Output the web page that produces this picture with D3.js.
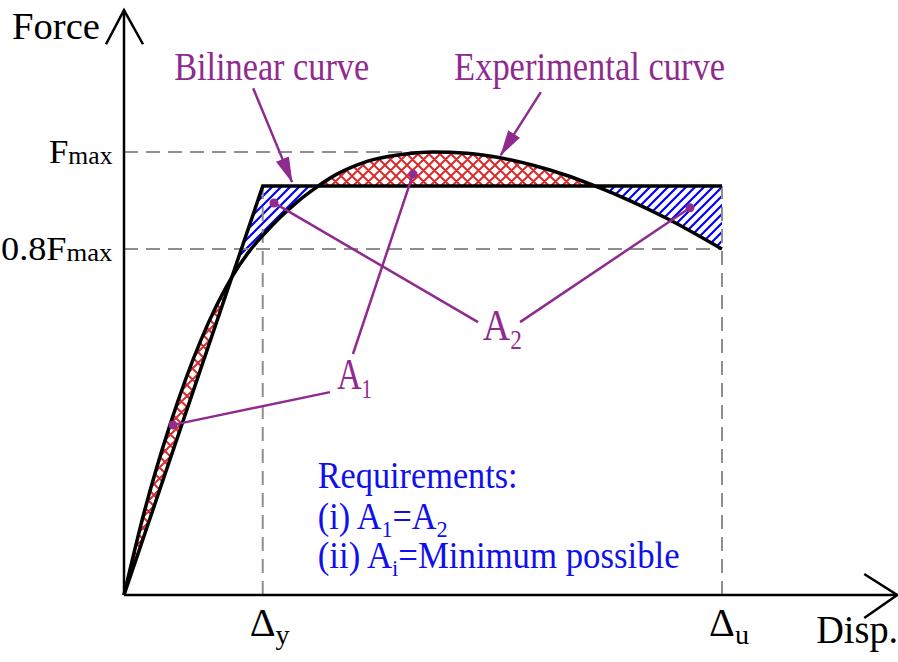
<!DOCTYPE html>
<html><head><meta charset="utf-8">
<script src="https://cdn.jsdelivr.net/npm/d3@7"></script>
<style>html,body{margin:0;padding:0;background:#fff;}svg{display:block;} text{font-family:"Liberation Serif","DejaVu Serif",serif;}</style>
</head><body>
<script>
// ---------- data (displacement: Δu = 100, force: Fmax = 1) ----------
const expDisp  = [0, 3.34, 7.69, 12.88, 18.06, 21.07, 23.58, 26.09, 28.93, 31.94, 34.95, 37.79, 40.64, 46.15, 51.67, 57.36, 62.88, 68.40, 74.08, 78.43, 85.12, 90.80, 100];
const expForce = [0, 0.185, 0.384, 0.576, 0.718, 0.778, 0.817, 0.852, 0.887, 0.918, 0.945, 0.964, 0.979, 0.994, 1.000, 0.997, 0.987, 0.970, 0.947, 0.925, 0.887, 0.850, 0.781];
const bilinDisp  = [0, 23.2, 100];
const bilinForce = [0, 0.923, 0.923];
const dispTickValues = [23.2, 100];
const dispTickLabels = [["Δ","y"], ["Δ","u"]];
const forceTickValues = [1.0, 0.781];
const forceTickLabels = [["F","max"], ["0.8F","max"]];
const peakDisp = 51.7;
const axisMaxDisp = 129.3;
const axisMaxForce = 1.32;
const a1Dots = [[8.19, 0.384], [48.33, 0.950]];
const a2Dots = [[25.08, 0.885], [94.65, 0.874]];
const a1LeaderEnds = [[34.45, 0.458], [38.29, 0.544]];
const a2LeaderEnds = [[59.2, 0.616], [66.22, 0.616]];
const areaLabels = [["A","1", 35.6, 0.465], ["A","2", 60.0, 0.576]];
const bilinArrow = [[21.6, 1.144], [28.1, 0.932]];
const expArrow   = [[69.7, 1.135], [63.0, 0.993]];
const curveLabels = [["Bilinear curve", 8.4, 1.163], ["Experimental curve", 55.2, 1.163]];
const reqLines = [[["Requirements:", 0]], [["(i) A", 0], ["1", 1], ["=A", 0], ["2", 1]], [["(ii) A", 0], ["i", 1], ["=Minimum possible", 0]]];
const reqX = 32.4;
const reqBaselines = [0.2415, 0.149, 0.061];
</script>
<script>
const W = 898, H = 662;
const FONT = "Liberation Serif, DejaVu Serif, serif";
const PURPLE = "#8f2a8f", BLUE_T = "#1010ee", GREY = "#8f8f8f";
const x = d3.scaleLinear().domain([0, 100]).range([124, 722]);
const y = d3.scaleLinear().domain([0, 1]).range([595, 152]);

const svg = d3.select("body").append("svg").attr("width", W).attr("height", H);
const defs = svg.append("defs");

// hatch patterns
const pb = defs.append("pattern").attr("id", "hatchBlue").attr("patternUnits", "userSpaceOnUse")
  .attr("width", 9).attr("height", 9);
pb.append("path").attr("d", "M-2,2 L2,-2 M0,9 L9,0 M7,11 L11,7")
  .attr("stroke", "#0000ff").attr("stroke-width", 2.2);
const pr = defs.append("pattern").attr("id", "hatchRed").attr("patternUnits", "userSpaceOnUse")
  .attr("width", 11).attr("height", 11);
pr.append("path").attr("d", "M-2,2 L2,-2 M0,11 L11,0 M9,13 L13,9 M-2,9 L2,13 M0,0 L11,11 M9,-2 L13,2")
  .attr("stroke", "#d92b2b").attr("stroke-width", 2);

// marker
defs.append("marker").attr("id", "arrowP").attr("markerUnits", "userSpaceOnUse")
  .attr("viewBox", "0 0 26 14").attr("markerWidth", 26).attr("markerHeight", 14)
  .attr("refX", 25).attr("refY", 7).attr("orient", "auto")
  .append("path").attr("d", "M0,0 L26,7 L0,14 Z").attr("fill", PURPLE);

const expPts = expDisp.map((d, i) => [d, expForce[i]]);
const bilPts = bilinDisp.map((d, i) => [d, bilinForce[i]]);
const curve = d3.curveMonotoneX;

// clip regions
const underExp = d3.area().x(d => x(d[0])).y0(y(0)).y1(d => y(d[1])).curve(curve);
const aboveExp = d3.area().x(d => x(d[0])).y0(y(1.4)).y1(d => y(d[1])).curve(curve);
defs.append("clipPath").attr("id", "clipUnder").append("path").attr("d", underExp(expPts));
defs.append("clipPath").attr("id", "clipAbove").append("path").attr("d", aboveExp(expPts));

const poly = d3.line().x(d => x(d[0])).y(d => y(d[1]));
const aboveBil = bilPts.concat([[100, 1.4], [0, 1.4]]);
const belowBil = bilPts.concat([[100, 0]]);
svg.append("path").attr("d", poly(aboveBil) + "Z").attr("fill", "url(#hatchRed)")
  .attr("clip-path", "url(#clipUnder)");
svg.append("path").attr("d", poly(belowBil) + "Z").attr("fill", "url(#hatchBlue)")
  .attr("clip-path", "url(#clipAbove)");

// dashed reference lines
const dash = svg.append("g").attr("stroke", GREY).attr("stroke-width", 2).attr("stroke-dasharray", "14,8").attr("fill", "none");
dash.append("line").attr("x1", x(0)).attr("x2", x(peakDisp)).attr("y1", y(forceTickValues[0])).attr("y2", y(forceTickValues[0]));
dash.append("line").attr("x1", x(0)).attr("x2", x(dispTickValues[1])).attr("y1", y(forceTickValues[1])).attr("y2", y(forceTickValues[1]));
dispTickValues.forEach(v => {
  dash.append("line").attr("x1", x(v)).attr("x2", x(v)).attr("y1", y(0)).attr("y2", y(bilinForce[1]));
});

// curves
svg.append("path").attr("d", d3.line().x(d => x(d[0])).y(d => y(d[1])).curve(curve)(expPts))
  .attr("fill", "none").attr("stroke", "#000").attr("stroke-width", 3.5);
svg.append("path").attr("d", poly(bilPts))
  .attr("fill", "none").attr("stroke", "#000").attr("stroke-width", 3.5).attr("stroke-linejoin", "miter");

// leader lines
const lead = svg.append("g").attr("stroke", PURPLE).attr("stroke-width", 2.5).attr("fill", "none");
a1Dots.forEach((d, i) => lead.append("line").attr("x1", x(d[0])).attr("y1", y(d[1]))
  .attr("x2", x(a1LeaderEnds[i][0])).attr("y2", y(a1LeaderEnds[i][1])));
a2Dots.forEach((d, i) => lead.append("line").attr("x1", x(d[0])).attr("y1", y(d[1]))
  .attr("x2", x(a2LeaderEnds[i][0])).attr("y2", y(a2LeaderEnds[i][1])));
[bilinArrow, expArrow].forEach(a => lead.append("line")
  .attr("x1", x(a[0][0])).attr("y1", y(a[0][1])).attr("x2", x(a[1][0])).attr("y2", y(a[1][1]))
  .attr("marker-end", "url(#arrowP)"));
svg.append("g").selectAll("circle").data(a1Dots.concat(a2Dots)).join("circle")
  .attr("cx", d => x(d[0])).attr("cy", d => y(d[1])).attr("r", 4.5).attr("fill", PURPLE);

function txt(xp, yp, size) {
  return svg.append("text").attr("x", xp).attr("y", yp).attr("font-family", FONT).attr("font-size", size);
}
// squeeze a text horizontally so that it spans [left, left + width]
function fit(t, left, width) {
  const bb = t.node().getBBox();
  const s = width / bb.width;
  t.attr("transform", `translate(${left - s * bb.x},0) scale(${s},1)`);
  return t;
}

// area labels
const areaWidths = [35, 39];
areaLabels.forEach((l, i) => {
  const t = txt(x(l[2]), y(l[3]), 44).attr("fill", PURPLE);
  t.append("tspan").text(l[0]);
  t.append("tspan").attr("font-size", 27).attr("dy", 9).text(l[1]);
  fit(t, x(l[2]), areaWidths[i]);
});

// curve labels
const curveWidths = [195, 271];
curveLabels.forEach((l, i) => fit(txt(x(l[1]), y(l[2]), 40).attr("fill", PURPLE).text(l[0]), x(l[1]), curveWidths[i]));

// requirements
const reqWidths = [200, 130, 362];
reqLines.forEach((line, i) => {
  const t = txt(x(reqX), y(reqBaselines[i]), 37).attr("fill", BLUE_T);
  let sub = 0;
  line.forEach(seg => {
    const ts = t.append("tspan").text(seg[0]);
    if (seg[1] === 1) { ts.attr("font-size", 24).attr("dy", sub ? 0 : 8); sub = 1; }
    else if (sub) { ts.attr("dy", -8); sub = 0; }
  });
  fit(t, x(reqX), reqWidths[i]);
});

// axes
const ax = svg.append("g").attr("stroke", "#000").attr("stroke-width", 2.5).attr("fill", "none");
ax.append("line").attr("x1", x(0)).attr("y1", y(0)).attr("x2", x(0)).attr("y2", y(axisMaxForce));
ax.append("line").attr("x1", x(0)).attr("y1", y(0)).attr("x2", x(axisMaxDisp)).attr("y2", y(0));
ax.append("polyline").attr("points", [[x(0) - 18, y(axisMaxForce) + 34], [x(0), y(axisMaxForce)], [x(0) + 19, y(axisMaxForce) + 34]].join(" "));
ax.append("polyline").attr("points", [[x(axisMaxDisp) - 33, y(0) - 21], [x(axisMaxDisp), y(0)], [x(axisMaxDisp) - 33, y(0) + 23]].join(" "));

// axis titles
fit(txt(x(0) - 112, y(axisMaxForce) + 29, 38).text("Force"), x(0) - 112, 88);
fit(txt(x(axisMaxDisp) - 80, y(0) + 48, 40).text("Disp."), x(axisMaxDisp) - 81, 82);

// force tick labels
const forceLabelLeft = [75, 123], forceLabelWidth = [64, 112];
forceTickValues.forEach((v, i) => {
  const t = txt(x(0) - forceLabelLeft[i], y(v) + 11, 34);
  t.append("tspan").text(forceTickLabels[i][0]);
  t.append("tspan").attr("font-size", 25).attr("dy", 1).text(forceTickLabels[i][1]);
  fit(t, x(0) - forceLabelLeft[i], forceLabelWidth[i]);
});
// disp tick labels
dispTickValues.forEach((v, i) => {
  const t = txt(x(v) - 13, y(0) + 41, 40);
  t.append("tspan").text(dispTickLabels[i][0]);
  t.append("tspan").attr("font-size", 28).attr("dy", 8).text(dispTickLabels[i][1]);
  fit(t, x(v) - 13, 40);
});
</script>
</body></html>
